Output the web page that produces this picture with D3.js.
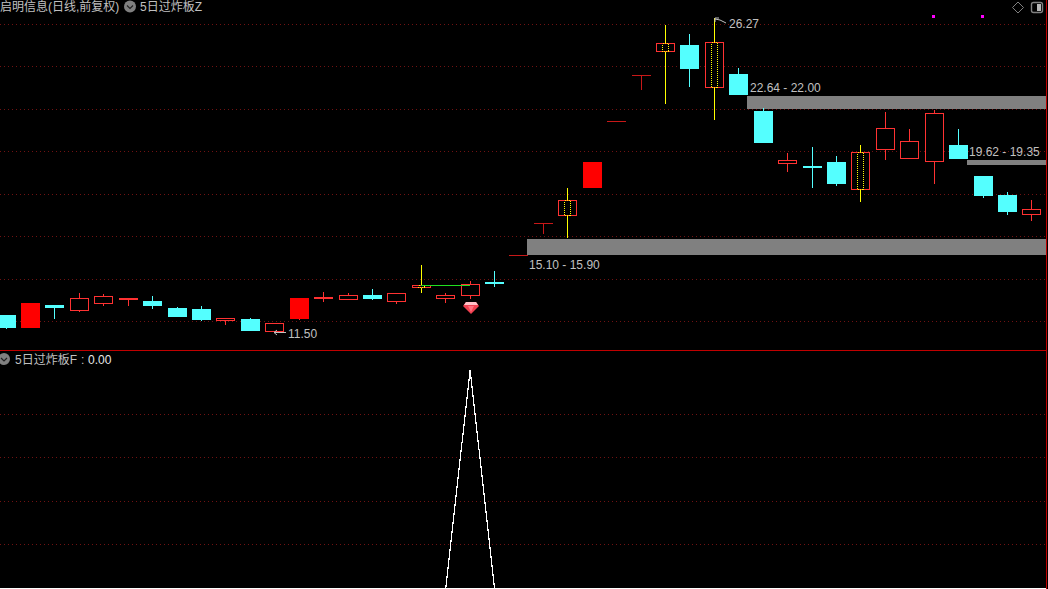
<!DOCTYPE html>
<html>
<head>
<meta charset="utf-8">
<script src="https://cdn.jsdelivr.net/npm/d3@7"></script>
<style>
html,body{margin:0;padding:0;background:#000;overflow:hidden}
svg{display:block}
text{font-family:"Liberation Sans","Noto Sans CJK SC",sans-serif;font-size:12px;fill:#c0c0c0}
</style>
</head>
<body>
<svg id="c" width="1048" height="589"></svg>
<script>
const stockTitle = "启明信息(日线,前复权)";
const upperIndicator = "5日过炸板Z";
const lowerIndicator = "5日过炸板F";
const lowerSep = ":";
const lowerValue = "0.00";
const gridPrices = [26,24,22,20,18,16,14,12];
const lowerGrid = [0.2,0.4,0.6,0.8];
const opens  = [12.28,11.66,12.75,12.47,12.80,12.98,12.94,12.61,12.56,12.00,12.09,11.47,12.09,13.08,12.98,13.22,12.89,13.55,13.03,13.17,13.83,15.11,16.62,16.95,18.27,21.42,23.60,24.68,25.01,22.98,23.64,21.90,19.40,19.30,19.49,18.17,20.06,19.63,19.49,20.29,18.83,17.94,16.99];
const closes = [11.66,12.84,12.61,13.08,13.17,13.08,12.70,12.18,12.04,12.14,11.52,11.90,13.08,13.15,13.22,13.03,13.31,13.69,13.22,13.74,13.74,15.11,16.62,17.70,19.49,21.42,23.60,25.10,23.88,25.15,22.65,20.39,19.59,19.21,18.46,19.96,21.10,20.48,21.80,19.63,17.89,17.14,17.28];
const highs  = [12.28,12.84,12.75,13.31,13.27,13.08,13.17,12.66,12.70,12.14,12.14,11.90,13.08,13.36,13.31,13.50,13.31,14.64,13.31,13.88,14.35,15.11,16.62,18.27,19.49,21.42,23.60,25.95,25.53,26.27,23.92,22.04,19.92,20.20,19.77,20.29,21.85,21.05,21.94,21.05,18.36,18.08,17.70];
const lows   = [11.62,11.66,12.09,12.42,12.70,12.70,12.56,12.18,12.00,11.81,11.52,11.47,12.04,12.89,12.98,12.98,12.80,13.31,12.84,13.03,13.60,15.11,16.10,15.91,18.27,21.42,22.89,22.23,23.03,21.47,22.65,20.39,19.02,18.27,18.36,17.61,19.59,19.63,18.46,19.63,17.79,16.99,16.71];
const solidUp = [1,12,24];
const signalDays = [17,23,27,29,35];
const signal = [0,0,0,0,0,0,0,0,0,0,0,0,0,0,0,0,0,0,0,1,0,0,0,0,0,0,0,0,0,0,0,0,0,0,0,0,0,0,0,0,0,0,0];
const zoneStart = [21,30,39];
const zoneHigh = [15.90,22.64,19.62];
const zoneLow  = [15.10,22.00,19.35];
const zoneLabels = ["15.10 - 15.90","22.64 - 22.00","19.62 - 19.35"];
const maxLabel = "26.27", minLabel = "11.50";
const topMarksDay = [38,40];
const gemDay = 19;

const RED="#ff3232", CYAN="#54ffff", YEL="#ffff00", DIM="#c81818", GRID="#701212", LINE="#c00000", GRAY="#808080";
const svg = d3.select("#c").attr("shape-rendering","crispEdges");
const x = d3.scaleLinear().domain([0,42]).range([5.55,1031.4]);
const y = d3.scaleLinear().domain([26,12]).range([24,321]);
const yL = d3.scaleLinear().domain([0,1]).range([588.5,370]);
const px = i => Math.round(x(i));
const py = v => Math.round(y(v));

svg.append("rect").attr("width",1048).attr("height",589).attr("fill","#000");

// grids via axes
function grid(scale, vals){
  const g = svg.append("g")
    .call(d3.axisRight(scale).tickValues(vals).tickSize(1046).tickFormat(""));
  g.select(".domain").remove();
  g.selectAll("line").attr("stroke",GRID).attr("stroke-dasharray","1 3").attr("shape-rendering","auto");
  g.selectAll(".tick").attr("transform",function(){
    const m = /,\s*([\d.]+)/.exec(d3.select(this).attr("transform"));
    return `translate(0,${Math.floor(+m[1])+.5})`;
  });
}
grid(y, gridPrices);
grid(d3.scaleLinear().domain([0,1]).range([588,370]), lowerGrid);

// zones
zoneStart.forEach((d,i)=>{
  const x0 = Math.floor(x(d)+9);
  svg.append("rect").attr("x",x0).attr("y",py(zoneHigh[i])+1).attr("width",1046-x0)
    .attr("height",py(zoneLow[i])-py(zoneHigh[i])-1).attr("fill",GRAY);
});

// candles
opens.forEach((o,i)=>{
  const c = closes[i], h = highs[i], l = lows[i], cx = px(i), wx = cx+.5;
  const top = py(Math.max(o,c)), bot = py(Math.min(o,c));
  const g = svg.append("g");
  const sig = signalDays.includes(i);
  if(o===c){
    g.append("line").attr("x1",cx-9).attr("x2",cx+10).attr("y1",top+.5).attr("y2",top+.5).attr("stroke",DIM);
    if(l<o) g.append("line").attr("x1",wx).attr("x2",wx).attr("y1",top).attr("y2",py(l)).attr("stroke",DIM);
    return;
  }
  const up = c>o, col = up?RED:CYAN, wc = sig?YEL:col;
  if(py(h)<top) g.append("line").attr("x1",wx).attr("x2",wx).attr("y1",py(h)).attr("y2",top).attr("stroke",wc);
  if(py(l)>bot) g.append("line").attr("x1",wx).attr("x2",wx).attr("y1",bot).attr("y2",py(l)).attr("stroke",wc);
  if(!up){
    g.append("rect").attr("x",cx-9).attr("y",top).attr("width",19).attr("height",bot-top).attr("fill",CYAN);
  } else if(solidUp.includes(i)){
    g.append("rect").attr("x",cx-9).attr("y",top).attr("width",19).attr("height",bot-top).attr("fill","#ff0000");
  } else {
    g.append("rect").attr("x",cx-8.5).attr("y",top+.5).attr("width",18).attr("height",Math.max(1,bot-top-1)).attr("fill","#000").attr("stroke",RED);
    if(sig) g.append("rect").attr("x",cx-2.5).attr("y",top+.5).attr("width",6).attr("height",Math.max(1,bot-top-1))
      .attr("fill","none").attr("stroke",YEL).attr("stroke-dasharray","1 1");
  }
});

// green link
svg.append("line").attr("x1",px(17)).attr("x2",px(19)).attr("y1",285.5).attr("y2",285.5).attr("stroke","#20e020");

// separators
svg.append("line").attr("x1",0).attr("x2",1047).attr("y1",350.5).attr("y2",350.5).attr("stroke",LINE);
svg.append("line").attr("x1",1046.5).attr("x2",1046.5).attr("y1",0).attr("y2",589).attr("stroke",LINE);

// zone labels
const zoneLabelPos = [[529,269],[750,92],[969,156]];
zoneLabels.forEach((t,i)=>svg.append("text").attr("x",zoneLabelPos[i][0]).attr("y",zoneLabelPos[i][1]).text(t));

// extreme labels
const hiX = px(29), loX = px(11);
svg.append("path").attr("d",`M${hiX+1} 22V18H${hiX+5}M${hiX+1} 19L${hiX+6} 20L${hiX+12} 23`).attr("fill","none").attr("stroke","#c0c0c0").attr("shape-rendering","auto");
svg.append("text").attr("x",729).attr("y",28).text(maxLabel);
svg.append("path").attr("d",`M${loX} 332.5H${loX+12}M${loX+3} 330L${loX} 332.5L${loX+3} 335`).attr("fill","none").attr("stroke","#c0c0c0").attr("shape-rendering","auto");
svg.append("text").attr("x",288).attr("y",338).text(minLabel);

// gem
const gx = px(gemDay)+1, gy = 302;
const gem = svg.append("g").attr("transform",`translate(${gx},${gy})`).attr("shape-rendering","auto");
gem.append("path").attr("d","M-5 0H5L8 4L0 12L-8 4Z").attr("fill","#f04050");
gem.append("path").attr("d","M-5 0H5L7 3H-7Z").attr("fill","#ffc0c8");
gem.append("path").attr("d","M-3 4H3L0 10Z").attr("fill","#ff7080");

// top magenta marks
topMarksDay.forEach(d=>svg.append("rect").attr("x",px(d)-2).attr("y",15).attr("width",3).attr("height",3).attr("fill","#ff00ff"));

// signal line
const lineGen = d3.line().x((d,i)=>x(i)+.5).y(d=>yL(d));
svg.append("path").datum(signal).attr("d",lineGen).attr("fill","none").attr("stroke","#fff").attr("stroke-width",1.2);
svg.append("line").attr("x1",0).attr("x2",1046).attr("y1",588.5).attr("y2",588.5).attr("stroke","#fff");

// icons
function chevron(cx,cy){
  const g = svg.append("g").attr("shape-rendering","auto");
  g.append("circle").attr("cx",cx).attr("cy",cy).attr("r",6).attr("fill",GRAY);
  g.append("path").attr("d",`M${cx-3} ${cy-1}L${cx} ${cy+2}L${cx+3} ${cy-1}`).attr("fill","none").attr("stroke","#222").attr("stroke-width",1.2);
}
chevron(130,6.5);
chevron(4,359);
svg.append("path").attr("d","M1018 2L1023.5 7.5L1018 13L1012.5 7.5Z").attr("fill","none").attr("stroke",GRAY).attr("shape-rendering","auto");
svg.append("rect").attr("x",1031.5).attr("y",2.5).attr("width",11).attr("height",10).attr("rx",2).attr("fill","none").attr("stroke",GRAY).attr("stroke-width",1.4).attr("shape-rendering","auto");
svg.append("rect").attr("x",1037).attr("y",4).attr("width",4).attr("height",7).attr("fill","#b8b8b8");

// titles
svg.append("text").attr("x",0).attr("y",11).text(stockTitle);
svg.append("text").attr("x",140).attr("y",11).text(upperIndicator);
svg.append("text").attr("x",15).attr("y",364).text(lowerIndicator);
svg.append("text").attr("x",81).attr("y",364).text(lowerSep);
svg.append("text").attr("x",88).attr("y",364).style("fill","#e8e8e8").text(lowerValue);
</script>
</body>
</html>
